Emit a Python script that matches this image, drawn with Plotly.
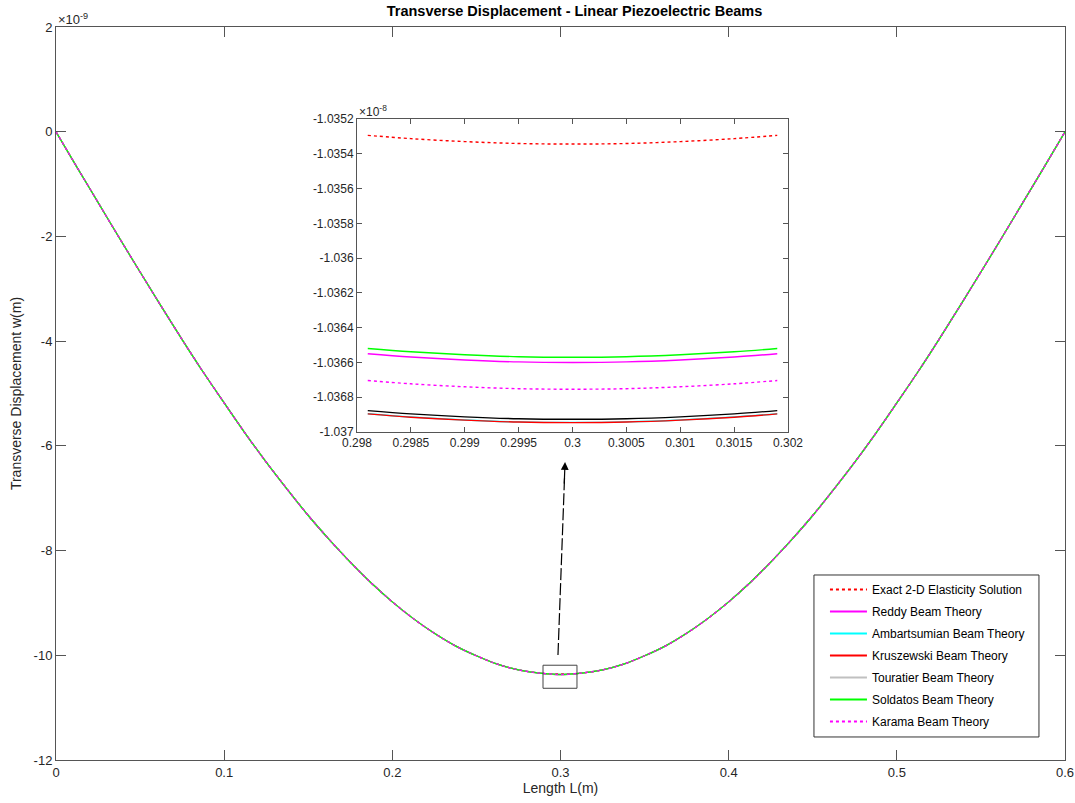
import plotly.graph_objects as go

# Stations along the beam span (m), outside the midspan window
x_span = [0.0, 0.0125, 0.025, 0.0375, 0.05, 0.0625, 0.075, 0.0875, 0.1, 0.1125, 0.125, 0.1375,
          0.15, 0.1625, 0.175, 0.1875, 0.2, 0.2125, 0.225, 0.2375, 0.25, 0.2625, 0.275, 0.2875,
          0.3125, 0.325, 0.3375, 0.35, 0.3625, 0.375, 0.3875, 0.4, 0.4125, 0.425, 0.4375, 0.45,
          0.4625, 0.475, 0.4875, 0.5, 0.5125, 0.525, 0.5375, 0.55, 0.5625, 0.575, 0.5875, 0.6]
# Transverse displacement along the span, units of 1e-9 m (theories coincide at this scale)
w_span = [0.0, -0.68, -1.35, -2.02, -2.68, -3.33, -3.97, -4.59, -5.18, -5.76, -6.31, -6.83,
          -7.33, -7.79, -8.22, -8.62, -8.98, -9.30, -9.58, -9.82, -10.01, -10.17, -10.28, -10.34,
          -10.34, -10.28, -10.17, -10.01, -9.82, -9.58, -9.30, -8.98, -8.62, -8.22, -7.79, -7.33,
          -6.83, -6.31, -5.76, -5.18, -4.59, -3.97, -3.33, -2.68, -2.02, -1.35, -0.68, 0.0]

# Stations inside the midspan window (m)
x_mid = [0.29810, 0.2985, 0.2990, 0.2995, 0.3000, 0.3005, 0.3010, 0.3015, 0.30190]
# Midspan displacements, units of 1e-8 m
w_exact = [-1.035294, -1.035313, -1.035330, -1.035341, -1.035344, -1.035341, -1.035330, -1.035313, -1.035294]
w_reddy = [-1.036550, -1.036569, -1.036586, -1.036597, -1.036600, -1.036597, -1.036586, -1.036569, -1.036550]
w_ambartsumian = [-1.036895, -1.036914, -1.036931, -1.036942, -1.036945, -1.036942, -1.036931, -1.036914, -1.036895]
w_kruszewski = [-1.036896, -1.036915, -1.036932, -1.036943, -1.036946, -1.036943, -1.036932, -1.036915, -1.036896]
w_touratier = [-1.036877, -1.036896, -1.036913, -1.036924, -1.036927, -1.036924, -1.036913, -1.036896, -1.036877]
w_soldatos = [-1.036520, -1.036539, -1.036556, -1.036567, -1.036570, -1.036567, -1.036556, -1.036539, -1.036520]
w_karama = [-1.036704, -1.036723, -1.036740, -1.036751, -1.036754, -1.036751, -1.036740, -1.036723, -1.036704]

series_names = ["Exact 2-D Elasticity Solution", "Reddy Beam Theory", "Ambartsumian Beam Theory",
                "Kruszewski Beam Theory", "Touratier Beam Theory", "Soldatos Beam Theory",
                "Karama Beam Theory"]
series_mid = [w_exact, w_reddy, w_ambartsumian, w_kruszewski, w_touratier, w_soldatos, w_karama]

# Tick labels
main_xticks = [0, 0.1, 0.2, 0.3, 0.4, 0.5, 0.6]
main_xlabels = ["0", "0.1", "0.2", "0.3", "0.4", "0.5", "0.6"]
main_yticks = [2, 0, -2, -4, -6, -8, -10, -12]
main_ylabels = ["2", "0", "-2", "-4", "-6", "-8", "-10", "-12"]
inset_xticks = [0.298, 0.2985, 0.299, 0.2995, 0.3, 0.3005, 0.301, 0.3015, 0.302]
inset_xlabels = ["0.298", "0.2985", "0.299", "0.2995", "0.3", "0.3005", "0.301", "0.3015", "0.302"]
inset_yticks = [-1.0352, -1.0354, -1.0356, -1.0358, -1.036, -1.0362, -1.0364, -1.0366, -1.0368, -1.037]
inset_ylabels = ["-1.0352", "-1.0354", "-1.0356", "-1.0358", "-1.036", "-1.0362", "-1.0364",
                 "-1.0366", "-1.0368", "-1.037"]

line_colors = ["#ff0000", "#ff00ff", "#00ffff", "#ff0000", "#c0c0c0", "#00ff00", "#ff00ff"]
inset_colors = ["#ff0000", "#ff00ff", "#00ffff", "#ff0000", "#000000", "#00ff00", "#ff00ff"]
line_dashes = ["dot", "solid", "solid", "solid", "solid", "solid", "dot"]

FONT = "Liberation Sans, Arial, Helvetica, sans-serif"
AX = "#555555"
TXT = "#262626"

fig = go.Figure()

# Full-span curves (midspan window points converted from 1e-8 m to 1e-9 m)
for i, (name, wm, col, dash) in enumerate(zip(series_names, series_mid, line_colors, line_dashes)):
    pts = sorted(list(zip(x_span, w_span)) + [(x, v * 10) for x, v in zip(x_mid, wm)])
    fig.add_trace(go.Scatter(
        x=[p[0] for p in pts], y=[p[1] for p in pts], mode="lines", name=name,
        legendgroup=f"g{i}", showlegend=False,
        line=dict(color=col, width=1.2, dash=dash, shape="spline", smoothing=1.0),
        xaxis="x", yaxis="y"))

# Legend keys, drawn a little heavier than the curves
for i, (name, col, dash) in enumerate(zip(series_names, line_colors, line_dashes)):
    fig.add_trace(go.Scatter(
        x=[None], y=[None], mode="lines", name=name, legendgroup=f"g{i}", showlegend=True,
        line=dict(color=col, width=2, dash=dash), xaxis="x", yaxis="y", hoverinfo="skip"))

# Midspan close-up
for name, wm, col, dash in zip(series_names, series_mid, inset_colors, line_dashes):
    fig.add_trace(go.Scatter(
        x=x_mid, y=wm, mode="lines", name=name, showlegend=False,
        line=dict(color=col, width=1.4, dash=dash, shape="spline"),
        xaxis="x2", yaxis="y2"))

axis_common = dict(showline=True, linecolor=AX, linewidth=1, mirror="ticks", ticks="inside",
                   tickcolor=AX, showgrid=False, zeroline=False, automargin=False)
main_font = dict(family=FONT, size=13, color=TXT)
inset_font = dict(family=FONT, size=12, color=TXT)

fig.update_layout(
    width=1075, height=803,
    margin=dict(l=56, r=10, t=27, b=43),
    paper_bgcolor="white", plot_bgcolor="white",
    font=dict(family=FONT, size=12, color=TXT),
    title=dict(text="<b>Transverse Displacement - Linear Piezoelectric Beams</b>",
               x=0.5 + 14 / 1009, xref="paper", y=1 - 11 / 803, yref="container",
               yanchor="middle", font=dict(family=FONT, size=14.5, color="#000000")),
    xaxis=dict(range=[0, 0.6], tickvals=main_xticks, ticktext=main_xlabels, ticklen=10,
               tickfont=main_font,
               title=dict(text="Length L(m)", font=dict(family=FONT, size=14, color=TXT),
                          standoff=4),
               domain=[0, 1], **axis_common),
    yaxis=dict(range=[-12, 2], tickvals=main_yticks, ticktext=main_ylabels, ticklen=10,
               tickfont=main_font,
               title=dict(text="Transverse Displacement w(m)",
                          font=dict(family=FONT, size=14, color=TXT), standoff=8),
               domain=[0, 1], **axis_common),
    xaxis2=dict(range=[0.298, 0.302], tickvals=inset_xticks, ticktext=inset_xlabels, ticklen=5,
                tickfont=inset_font, domain=[0.2983, 0.7255], anchor="y2", **axis_common),
    yaxis2=dict(range=[-1.037, -1.0352], tickvals=inset_yticks, ticktext=inset_ylabels, ticklen=5,
                tickfont=inset_font, domain=[0.4475, 0.8745], anchor="x2", **axis_common),
    legend=dict(x=0.7621, y=0.2524, xanchor="left", yanchor="top",
                bgcolor="rgba(0,0,0,0)", borderwidth=0, tracegroupgap=3, itemwidth=37,
                font=dict(family=FONT, size=12, color="#000000"), traceorder="grouped"),
    showlegend=True,
)

# Legend frame
fig.add_shape(type="rect", xref="paper", yref="paper", x0=0.7512, x1=0.9742, y0=0.0314,
              y1=0.2524, line=dict(color="#333333", width=1), fillcolor="white", layer="below")

# Zoom window marker around midspan
fig.add_shape(type="rect", xref="x", yref="y", x0=0.2896, x1=0.3098, y0=-10.63, y1=-10.19,
              line=dict(color="#444444", width=1))
# Pointer from the window to the close-up
fig.add_shape(type="line", xref="x", yref="y", x0=0.2985, y0=-9.996, x1=0.3024, y1=-6.6,
              line=dict(color="#000000", width=1.2, dash="12px,3px"))
fig.add_annotation(x=0.3027, y=-6.31, ax=0.3022, ay=-6.75, xref="x", yref="y",
                   axref="x", ayref="y", text="", showarrow=True, arrowhead=2,
                   arrowsize=1.3, arrowwidth=1.2, arrowcolor="#000000")

# Exponent labels
fig.add_annotation(x=0, y=1, xref="paper", yref="paper", xanchor="left", yanchor="bottom",
                   text="×10<sup>-9</sup>", showarrow=False, yshift=-2,
                   font=dict(family=FONT, size=13, color=TXT))
fig.add_annotation(x=0.2983, y=0.8745, xref="paper", yref="paper", xanchor="left",
                   yanchor="bottom", text="×10<sup>-8</sup>", showarrow=False, yshift=-2,
                   font=dict(family=FONT, size=12, color=TXT))

fig.write_html("out.html")
